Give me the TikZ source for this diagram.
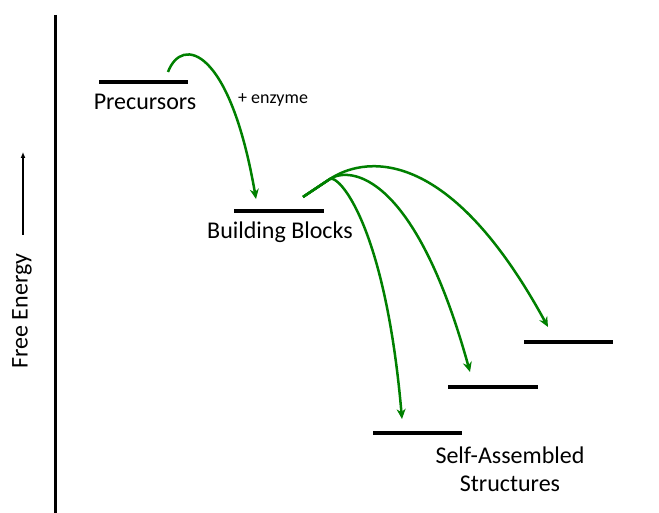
\documentclass[tikz,border=0pt]{standalone}
\usepackage{fontspec}
\setmainfont{Carlito}
\usetikzlibrary{arrows.meta}
\definecolor{arrgreen}{RGB}{0,128,0}
\begin{document}
\begin{tikzpicture}[x=1pt,y=1pt,
  level/.style={line width=4pt},
  axis/.style={line width=3pt},
  trans/.style={draw=arrgreen,line width=2.5pt,line join=round,-{Stealth[length=10pt,width=9pt]}},
  lbl/.style={font=\fontsize{24}{28}\selectfont,inner sep=0pt,align=center},
  small/.style={font=\fontsize{18}{20}\selectfont,inner sep=0pt}]
\useasboundingbox (0,0) rectangle (659,513);
% axis
\coordinate (axtop) at (55,498);
\coordinate (axbot) at (55,0);
\draw[axis] (axtop) -- (axbot);
\coordinate (fa1) at (23,278);
\coordinate (fa2) at (23,361);
\draw[line width=1.3pt,-{Latex[length=6pt,width=5pt]}] (fa1) -- (fa2);
\node[lbl,rotate=90] (fe) at (22,202) {Free Energy};
% levels
\coordinate (p1) at (99,431); \coordinate (p2) at (188,431);
\draw[level] (p1) -- (p2);
\node[lbl] (prec) at (145,411) {Precursors};
\coordinate (b1) at (234,302); \coordinate (b2) at (324,302);
\draw[level] (b1) -- (b2);
\node[lbl] (bb) at (280,281) {Building Blocks};
\coordinate (s1a) at (373,80); \coordinate (s1b) at (462,80);
\draw[level] (s1a) -- (s1b);
\coordinate (s2a) at (448,126); \coordinate (s2b) at (538,126);
\draw[level] (s2a) -- (s2b);
\coordinate (s3a) at (524,171); \coordinate (s3b) at (613,171);
\draw[level] (s3a) -- (s3b);
\node[lbl] (sas) at (510,44) {Self-Assembled\\Structures};
\node[small] (enz) at (273,413) {+ enzyme};
% transitions
\coordinate (a1s) at (168,441);
\coordinate (a1e) at (256,314);
\draw[trans] (a1s) .. controls (182,478) and (230,465) .. (a1e);
\coordinate (bs) at (303,316);
\coordinate (tr) at (330,334);
\coordinate (e1) at (402,94);
\coordinate (e2) at (470,141);
\coordinate (e3) at (548,186);
\draw[trans] (bs) -- (tr) .. controls (338,339) and (385,290) .. (e1);
\draw[trans] (bs) -- (tr) .. controls (350,347) and (415,340) .. (e2);
\draw[trans] (bs) -- (tr) .. controls (360,354) and (445,375) .. (e3);
\end{tikzpicture}
\end{document}
